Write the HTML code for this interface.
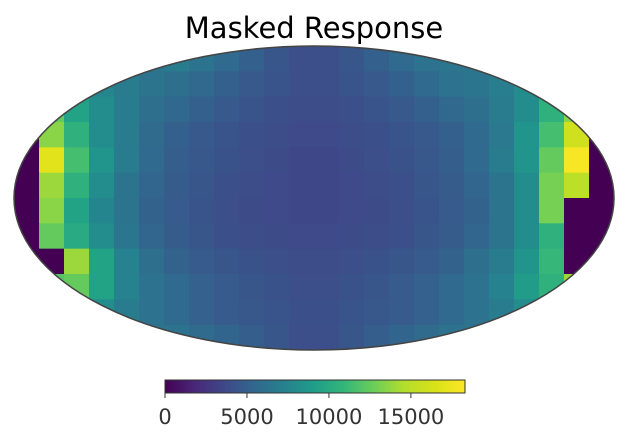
<!DOCTYPE html>
<html><head><meta charset="utf-8"><style>
body{margin:0;background:#fff;}
svg{display:block;font-family:"Liberation Sans","DejaVu Sans",sans-serif;}
</style></head><body>
<svg width="629" height="446" viewBox="0 0 629 446" id="chart">
<text x="314" y="38" text-anchor="middle" font-size="29" fill="#000" font-family="DejaVu Sans, Liberation Sans, sans-serif">Masked Response</text>
<defs>
<clipPath id="ell"><ellipse cx="314" cy="198" rx="300" ry="152"/></clipPath>
<linearGradient id="vir" x1="0" x2="1" y1="0" y2="0">
<stop offset="0" stop-color="#440154"/><stop offset="0.1" stop-color="#482878"/><stop offset="0.2" stop-color="#3e4989"/><stop offset="0.3" stop-color="#31688e"/><stop offset="0.4" stop-color="#26828e"/><stop offset="0.5" stop-color="#1f9e89"/><stop offset="0.6" stop-color="#35b779"/><stop offset="0.7" stop-color="#6ece58"/><stop offset="0.8" stop-color="#b5de2b"/><stop offset="0.9" stop-color="#d8e219"/><stop offset="1" stop-color="#fde725"/>
</linearGradient>
</defs>
<g id="cells" clip-path="url(#ell)"></g>
<ellipse cx="314" cy="198" rx="300" ry="152" fill="none" stroke="#444" stroke-width="1.5"/>
<rect x="165" y="380" width="300" height="13" fill="url(#vir)" stroke="#333" stroke-width="1"/>
<g id="cbticks"></g>
</svg>
<script>
const vmin = 0, vmax = 18300;
const cbTicks = [0, 5000, 10000, 15000];
const gridValues = [
[6500,6500,6500,6500,6500,6500,6800,6300,5600,5000,4400,4000,4000,4400,5000,5600,6200,6500,6500,6500,6500,6500,6500,6500],
[8500,9500,8500,7500,6800,6300,6000,5500,5000,4600,4300,4000,4000,4300,4600,5000,5600,6200,6500,7000,8000,9500,9000,8500],
[0,12500,9500,8000,6800,6000,5500,5000,4600,4300,4100,3900,3900,4100,4300,4600,5000,5500,6000,6800,8000,10500,13500,0],
[0,13500,10500,8000,6800,5700,5000,4600,4300,4100,3900,3700,3700,3900,4100,4300,4600,5000,5600,6700,8500,11500,16000,0],
[0,17000,11500,8500,6800,5600,4900,4500,4200,4000,3800,3600,3600,3800,4000,4200,4500,4900,5600,6800,8500,12500,18000,0],
[0,14000,10500,8000,6300,5400,4800,4400,4100,3900,3700,3600,3600,3700,3900,4100,4400,4800,5400,6300,8000,13000,15000,0],
[0,13500,9500,7500,6300,5200,4700,4300,4000,3800,3700,3600,3600,3700,3800,4000,4300,4700,5200,6300,8000,13000,0,0],
[0,12500,10000,8000,6500,5400,4800,4400,4100,3900,3800,3700,3700,3800,3900,4100,4400,4800,5400,6300,8000,10500,0,0],
[0,0,14000,9500,7300,6000,5200,4700,4400,4200,4000,3900,3900,4000,4200,4400,4700,5200,6000,6800,8500,11000,0,0],
[0,12000,12500,9500,7300,6200,5600,5100,4700,4400,4200,4000,4000,4200,4400,4700,5100,5600,6200,7300,9000,10500,14000,0],
[11500,10500,9000,8000,6800,6200,5600,5100,4700,4500,4300,4100,4100,4300,4500,4700,5100,5600,6200,6800,8000,9000,9500,9500],
[6800,6800,6800,6500,6300,6300,6200,5700,5300,4900,4400,4000,4000,4400,4900,5300,5700,6200,6300,6300,6300,6800,6800,6800]
];
const stops=["#440154","#482878","#3e4989","#31688e","#26828e","#1f9e89","#35b779","#6ece58","#b5de2b","#d8e219","#fde725"];
function hx(c){return [1,3,5].map(i=>parseInt(c.substr(i,2),16));}
function viridis(t){t=Math.max(0,Math.min(1,t));const f=t*10,i=Math.min(9,Math.floor(f)),u=f-i;const a=hx(stops[i]),b=hx(stops[i+1]);return "rgb("+a.map((v,k)=>Math.round(v+(b[k]-v)*u)).join(",")+")";}
const NS="http://www.w3.org/2000/svg";
const x0=14,y0=46,W=600,H=304;
const rows=gridValues.length, cols=gridValues[0].length;
const cw=W/cols, ch=H/rows;
const g=document.getElementById("cells");
gridValues.forEach((row,r)=>row.forEach((v,c)=>{
  const rc=document.createElementNS(NS,"rect");
  rc.setAttribute("x",x0+c*cw);rc.setAttribute("y",y0+r*ch);
  rc.setAttribute("width",cw+0.6);rc.setAttribute("height",ch+0.6);
  rc.setAttribute("fill",viridis((v-vmin)/(vmax-vmin)));
  
  
  g.appendChild(rc);
}));
const tg=document.getElementById("cbticks");
const cbx=v=>165+300*(v-vmin)/(vmax-vmin);
cbTicks.forEach(v=>{
  const l=document.createElementNS(NS,"line");
  l.setAttribute("x1",cbx(v));l.setAttribute("x2",cbx(v));l.setAttribute("y1",393);l.setAttribute("y2",398);
  l.setAttribute("stroke","#333");
  
  
  tg.appendChild(l);
  const t=document.createElementNS(NS,"text");
  t.setAttribute("x",cbx(v));t.setAttribute("y",424);t.setAttribute("text-anchor","middle");
  t.setAttribute("font-size","21");t.setAttribute("fill","#333");
  t.setAttribute("font-family","DejaVu Sans, Liberation Sans, sans-serif");
  t.textContent=v;
  
  
  tg.appendChild(t);
});
</script>
</body></html>
